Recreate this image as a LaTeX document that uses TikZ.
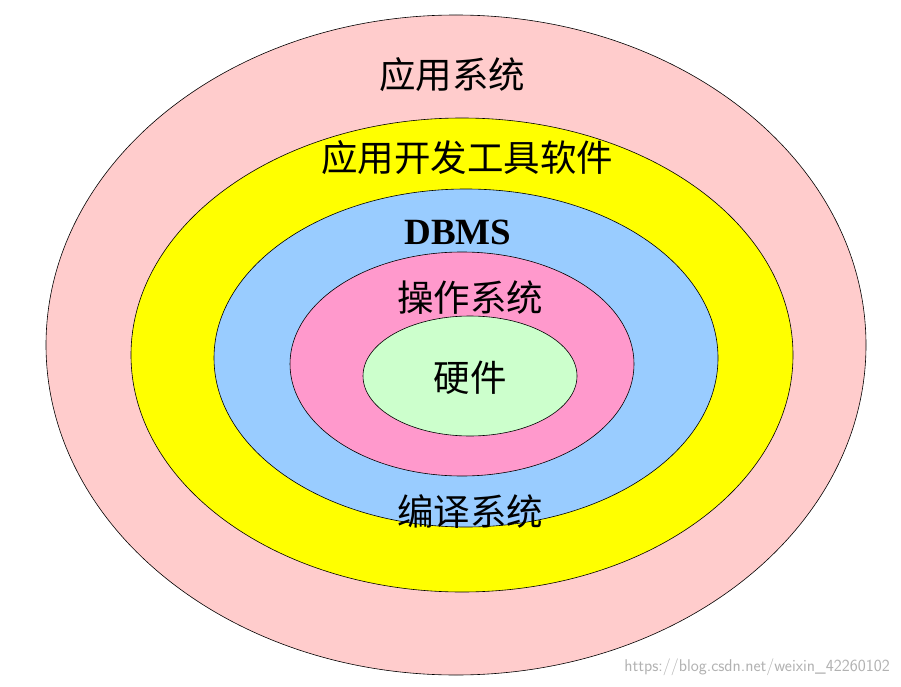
\documentclass[tikz,border=0pt]{standalone}
\usepackage{fontspec}
\setmainfont{Liberation Serif}
\newfontfamily\cjk{Noto Sans CJK SC}
\definecolor{c1}{HTML}{FFCCCC}
\definecolor{c2}{HTML}{FFFF00}
\definecolor{c3}{HTML}{99CCFF}
\definecolor{c4}{HTML}{FF99CC}
\definecolor{c5}{HTML}{CCFFCC}
\begin{document}
\begin{tikzpicture}[x=1pt,y=-1pt,
  ring/.style={draw=black,line width=0.6pt},
  lbl/.style={font=\cjk\fontsize{36.5}{40}\selectfont}]
\useasboundingbox (0,0) rectangle (901,687);
\fill[white] (0,0) rectangle (901,687);
\draw[ring,fill=c1] (456,345) ellipse [x radius=410,y radius=330];
\draw[ring,fill=c2] (462,355) ellipse [x radius=331,y radius=237];
\draw[ring,fill=c3] (466,358) ellipse [x radius=252,y radius=169];
\draw[ring,fill=c4] (462,364) ellipse [x radius=172,y radius=112];
\draw[ring,fill=c5] (470,376) ellipse [x radius=107,y radius=60];
\node[lbl] (t1) at (452,75) {应用系统};
\node[lbl] (t2) at (467,158) {应用开发工具软件};
\node[font=\bfseries\fontsize{37}{40}\selectfont] (t3) at (458,232) {DBMS};
\node[lbl] (t4) at (470,298) {操作系统};
\node[lbl] (t5) at (470,378) {硬件};
\node[lbl] (t6) at (470,512) {编译系统};
\node[font=\sffamily\fontsize{17}{19}\selectfont,text=gray!60] (w) at (757,667) {https://blog.csdn.net/weixin\_42260102};
\end{tikzpicture}
\end{document}
